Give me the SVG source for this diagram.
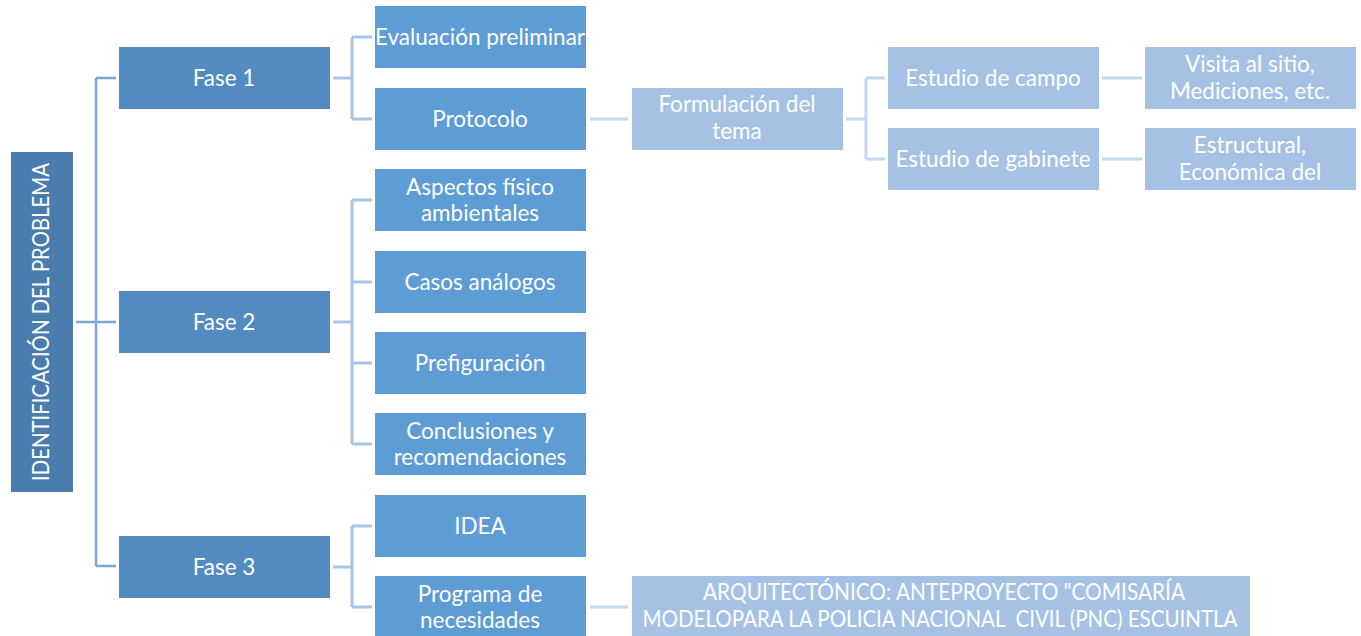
<svg xmlns="http://www.w3.org/2000/svg" width="1361" height="636" viewBox="0 0 1361 636">
<style>
text{font-family:Lato,"Open Sans","Liberation Sans",sans-serif;font-size:22.5px;fill:#fff;text-anchor:middle}
.r{fill:#4a7dae}.f{fill:#538bc1}.m{fill:#5e9cd6}.l{fill:#a5c2e4}
.c1{stroke:#7aa6d8;stroke-width:2.5;fill:none}
.c2{stroke:#a9c5e6;stroke-width:3;fill:none}
.c3{stroke:#c4d7ee;stroke-width:3;fill:none}
</style>
<rect width="1361" height="636" fill="#fff"/>
<g id="connectors">
<path class="c1" d="M76 322H116M96 78V566M96 78H116M96 566H116"/>
<path class="c2" d="M333 78H352M352 37V119M352 37H372M352 119H372"/>
<path class="c2" d="M333 322H352M352 200V444M352 200H372M352 282H372M352 363H372M352 444H372"/>
<path class="c2" d="M333 567H352M352 526V607M352 526H372M352 607H372"/>
<path class="c3" d="M590 119H628"/>
<path class="c3" d="M846 119H866M866 78V159M866 78H885M866 159H885"/>
<path class="c3" d="M1102 78H1142M1102 159H1142"/>
<path class="c3" d="M590 607H628"/>
</g>
<g id="root"><rect class="r" x="11" y="152" width="62" height="340"/><text transform="translate(49 322) rotate(-90)" textLength="318" lengthAdjust="spacingAndGlyphs">IDENTIFICACIÓN DEL PROBLEMA</text></g>
<g id="fase1"><rect class="f" x="119" y="47" width="211" height="62"/><text x="224" y="86">Fase 1</text></g>
<g id="fase2"><rect class="f" x="119" y="291" width="211" height="62"/><text x="224" y="330">Fase 2</text></g>
<g id="fase3"><rect class="f" x="119" y="536" width="211" height="62"/><text x="224" y="575">Fase 3</text></g>
<g id="evaluacion"><rect class="m" x="375" y="6" width="211" height="62"/><text x="480" y="45">Evaluación preliminar</text></g>
<g id="protocolo"><rect class="m" x="375" y="88" width="211" height="62"/><text x="480" y="127">Protocolo</text></g>
<g id="aspectos"><rect class="m" x="375" y="169" width="211" height="62"/><text x="480" y="195">Aspectos físico</text><text x="480" y="221">ambientales</text></g>
<g id="casos"><rect class="m" x="375" y="251" width="211" height="62"/><text x="480" y="290">Casos análogos</text></g>
<g id="prefiguracion"><rect class="m" x="375" y="332" width="211" height="62"/><text x="480" y="371">Prefiguración</text></g>
<g id="conclusiones"><rect class="m" x="375" y="413" width="211" height="62"/><text x="480" y="439">Conclusiones y</text><text x="480" y="465">recomendaciones</text></g>
<g id="idea"><rect class="m" x="375" y="495" width="211" height="62"/><text x="480" y="534">IDEA</text></g>
<g id="programa"><rect class="m" x="375" y="576" width="211" height="62"/><text x="480" y="602">Programa de</text><text x="480" y="628">necesidades</text></g>
<g id="formulacion"><rect class="l" x="632" y="88" width="211" height="62"/><text x="737" y="112">Formulación del</text><text x="737" y="139">tema</text></g>
<g id="campo"><rect class="l" x="888" y="47" width="211" height="62"/><text x="993" y="86">Estudio de campo</text></g>
<g id="gabinete"><rect class="l" x="888" y="128" width="211" height="62"/><text x="993" y="167">Estudio de gabinete</text></g>
<g id="visita"><rect class="l" x="1145" y="47" width="211" height="62"/><text x="1250" y="72">Visita al sitio,</text><text x="1250" y="99">Mediciones, etc.</text></g>
<g id="estructural"><rect class="l" x="1145" y="128" width="211" height="62"/><text x="1250" y="153">Estructural,</text><text x="1250" y="180">Económica del</text></g>
<g id="arquitectonico"><rect class="l" x="632" y="576" width="618" height="62"/><text x="944" y="600" textLength="482" lengthAdjust="spacingAndGlyphs">ARQUITECTÓNICO: ANTEPROYECTO "COMISARÍA</text><text x="940" y="627" textLength="595" lengthAdjust="spacingAndGlyphs" xml:space="preserve">MODELOPARA LA POLICIA NACIONAL  CIVIL (PNC) ESCUINTLA</text></g>
</svg>
